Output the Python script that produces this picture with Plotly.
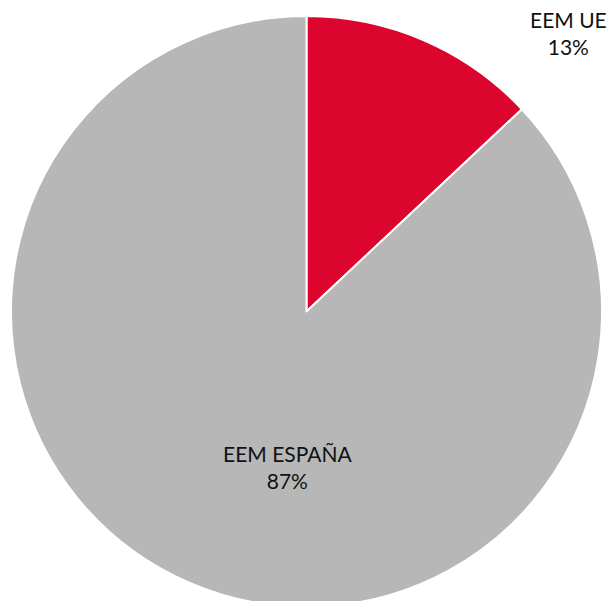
import plotly.graph_objects as go

# Share of EEM by origin
labels = ["EEM UE", "EEM ESPAÑA"]
values = [13, 87]
colors = ["#DC052D", "#B7B7B7"]

W, H = 608, 620  # figure is a little taller than the view; the pie runs off the bottom edge

fig = go.Figure(
    go.Pie(
        labels=labels,
        values=values,
        sort=False,
        direction="clockwise",
        rotation=0,
        marker=dict(colors=colors, line=dict(color="white", width=2)),
        textinfo="none",
        hoverinfo="label+percent",
        domain=dict(x=[11 / W, 602 / W], y=[(H - 607) / H, (H - 16) / H]),
        showlegend=False,
    )
)

# Slice labels: name and share, placed as text blocks
label_pos = [(568, 33), (287, 467)]
total = sum(values)
for name, val, (px, py) in zip(labels, values, label_pos):
    fig.add_annotation(
        x=px / W,
        y=(H - py) / H,
        xref="paper",
        yref="paper",
        text=f"{name}<br>{round(100 * val / total)}%",
        showarrow=False,
        xanchor="center",
        yanchor="middle",
        align="center",
        font=dict(family="Lato", size=21, color="#111111"),
    )

fig.update_layout(
    width=W,
    height=H,
    margin=dict(l=0, r=0, t=0, b=0),
    paper_bgcolor="white",
    plot_bgcolor="white",
    font=dict(family="Lato"),
)

fig.write_html(
    "out.html",
    config={"displayModeBar": False},
    post_script="document.documentElement.style.overflow='hidden';document.body.style.overflow='hidden';document.body.style.margin='0';",
)
